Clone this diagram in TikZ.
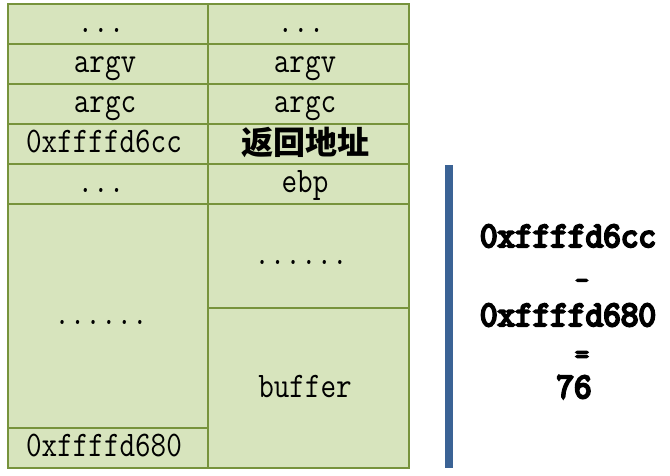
\documentclass[tikz,border=0pt]{standalone}
\usepackage{fontspec}
\newfontfamily\cjk{Noto Sans CJK SC}
\newfontfamily\lmono[FakeStretch=0.84]{Latin Modern Mono}
\newfontfamily\lmonob[FakeStretch=0.95,FakeBold=6]{Latin Modern Mono}
\definecolor{cellfill}{HTML}{D7E4BD}
\definecolor{celledge}{HTML}{77933C}
\definecolor{barblue}{HTML}{3B6395}
\begin{document}
\begin{tikzpicture}[x=1pt,y=-1pt,
  cell/.style={fill=cellfill,draw=celledge,line width=2.8pt},
  lbl/.style={anchor=base,inner sep=0pt,font=\fontsize{36}{36}\selectfont\lmono},
  calc/.style={anchor=base,inner sep=0pt,font=\fontsize{36}{36}\selectfont\lmonob},
  op/.style={anchor=base,inner sep=0pt,font=\fontsize{28}{28}\selectfont\lmonob}]
\useasboundingbox (0,0) rectangle (670,476);
% cells
\draw[cell] (8,4) rectangle (208,44);
\draw[cell] (208,4) rectangle (409,44);
\draw[cell] (8,44) rectangle (208,84);
\draw[cell] (208,44) rectangle (409,84);
\draw[cell] (8,84) rectangle (208,124);
\draw[cell] (208,84) rectangle (409,124);
\draw[cell] (8,124) rectangle (208,164);
\draw[cell] (208,124) rectangle (409,164);
\draw[cell] (8,164) rectangle (208,204);
\draw[cell] (208,164) rectangle (409,204);
\draw[cell] (8,204) rectangle (208,428);
\draw[cell] (8,428) rectangle (208,468);
\draw[cell] (208,204) rectangle (409,308);
\draw[cell] (208,308) rectangle (409,468);
% labels
\node[lbl] (l1) at (101,33) {...};
\node[lbl] (r1) at (301,33) {...};
\node[lbl] (l2) at (105,73) {argv};
\node[lbl] (r2) at (305,73) {argv};
\node[lbl] (l3) at (105,113) {argc};
\node[lbl] (r3) at (305,113) {argc};
\node[lbl] (l4) at (104,153) {0xffffd6cc};
\node[inner sep=0pt,font=\fontsize{32}{32}\selectfont\cjk\bfseries] (r4) at (305,142) {返回地址};
\node[lbl] (l5) at (101,193) {...};
\node[lbl] (r5) at (305,193) {ebp};
\node[lbl] (l6) at (101,324) {......};
\node[lbl] (r6) at (301,265) {......};
\node[lbl] (r7) at (305,397) {buffer};
\node[lbl] (l7) at (104,456) {0xffffd680};
% bar
\fill[barblue] (445,165) rectangle (453,468);
% calculation
\node[calc] (c1) at (568,247) {0xffffd6cc};
\node[op] (c2) at (582,289) {-};
\node[calc] (c3) at (568,326) {0xffffd680};
\node[op] (c4) at (582,363) {=};
\node[calc] (c5) at (574,398) {76};
\end{tikzpicture}
\end{document}
